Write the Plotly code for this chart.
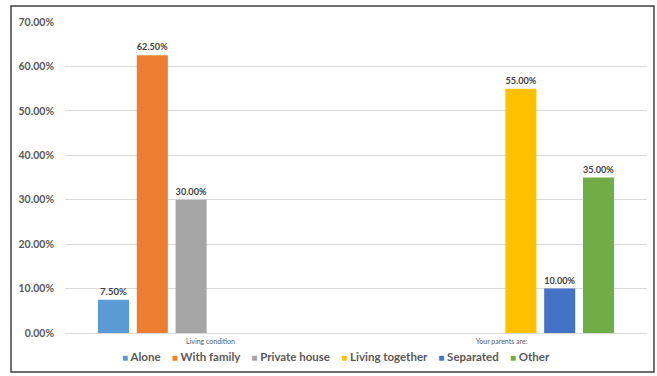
import plotly.graph_objects as go

# Survey categories and response groups
categories = ["Living condition", "Your parents are:"]
series_names = ["Alone", "With family", "Private house", "Living together", "Separated", "Other"]
series_colors = ["#5B9BD5", "#ED7D31", "#A5A5A5", "#FFC000", "#4472C4", "#70AD47"]
# Share of respondents (fraction) per category; None where a group does not apply
alone = [0.075, None]
with_family = [0.625, None]
private_house = [0.30, None]
living_together = [None, 0.55]
separated = [None, 0.10]
other = [None, 0.35]
y_ticks = [0, 0.1, 0.2, 0.3, 0.4, 0.5, 0.6, 0.7]

series_values = [alone, with_family, private_house, living_together, separated, other]

FONT = "Lato"
TEXT_COLOR = "#595959"

fig = go.Figure()
for name, color, vals in zip(series_names, series_colors, series_values):
    fig.add_trace(go.Bar(
        x=categories,
        y=vals,
        name=name,
        marker=dict(color=color, line=dict(width=0)),
        texttemplate="%{y:.2%}",
        textposition="outside",
        textfont=dict(family=FONT, size=9.5, color="#404040", weight="bold"),
        cliponaxis=False,
        showlegend=False,
    ))

# Legend drawn as a single centred line of coloured squares and labels
legend_text = "&nbsp;&nbsp;&nbsp;&nbsp;".join(
    f"<span style='color:{c};font-size:10px'>■</span> {n}"
    for n, c in zip(series_names, series_colors)
)

fig.update_layout(
    width=657,
    height=376,
    margin=dict(l=65, r=10, t=22, b=43),
    paper_bgcolor="white",
    plot_bgcolor="white",
    barmode="group",
    bargap=0.2,
    bargroupgap=0.2,
    xaxis=dict(
        showgrid=False,
        showline=False,
        ticks="",
        tickfont=dict(family=FONT, size=7, color=TEXT_COLOR),
        ticklabelstandoff=3,
    ),
    yaxis=dict(
        range=[0, 0.7],
        tickvals=y_ticks,
        tickformat=".2%",
        showgrid=True,
        gridcolor="#D9D9D9",
        gridwidth=1,
        zeroline=True,
        zerolinecolor="#D9D9D9",
        zerolinewidth=1,
        showline=False,
        ticks="",
        ticklabelstandoff=10,
        tickfont=dict(family=FONT, size=10.5, color=TEXT_COLOR, weight="bold"),
    ),
    annotations=[dict(
        text=legend_text,
        xref="paper", yref="paper",
        x=0.466, y=-0.077,
        xanchor="center", yanchor="middle",
        showarrow=False,
        font=dict(family=FONT, size=11.5, color=TEXT_COLOR, weight="bold"),
    )],
    shapes=[dict(
        type="rect",
        xref="paper", yref="paper",
        x0=-0.0928, x1=1.012, y0=-0.1254, y1=1.0514,
        line=dict(color="#404040", width=1.5),
        layer="below",
    )],
)

fig.write_html("out.html")
